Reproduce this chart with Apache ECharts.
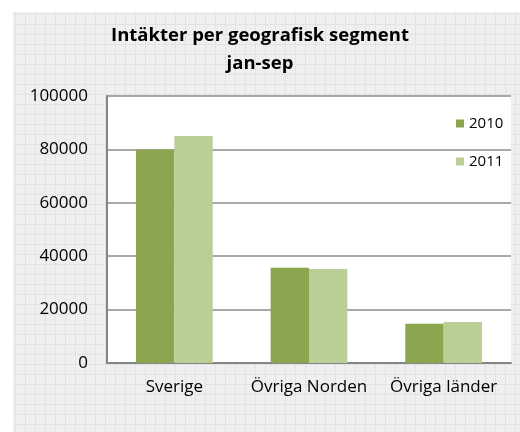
<!DOCTYPE html>
<html><head><meta charset="utf-8">
<script src="https://cdn.jsdelivr.net/npm/echarts@6/dist/echarts.min.js"></script>
<style>html,body{margin:0;padding:0;background:#fff}#c{width:520px;height:432px}</style>
</head><body><div id="c"></div>
<script>
var titleLines = ['Intäkter per geografisk segment', 'jan-sep'];
var categories = ['Sverige', 'Övriga Norden', 'Övriga länder'];
var seriesNames = ['2010', '2011'];
var values2010 = [80000, 35700, 14700];
var values2011 = [85000, 35200, 15400];
var yTicks = [0, 20000, 40000, 60000, 80000, 100000];

// background cell pattern
var pc = document.createElement('canvas');
pc.width = 10; pc.height = 10;
var ctx = pc.getContext('2d');
ctx.fillStyle = '#f1f1f1'; ctx.fillRect(0, 0, 10, 10);
ctx.fillStyle = '#ebebeb';
for (var i = 0; i < 10; i += 2) for (var j = (i/2)%2; j < 10; j += 2) ctx.fillRect(i, j, 1, 1);
ctx.fillStyle = '#e2e2e2';
ctx.fillRect(2, 0, 1, 10);
ctx.fillRect(0, 2, 10, 1);

var font = 'Open Sans';
var chart = echarts.init(document.getElementById('c'), null, {renderer: 'canvas'});
chart.setOption({
  animation: false,
  backgroundColor: '#ffffff',
  graphic: [{
    type: 'rect', left: 13, top: 12, z: -10,
    shape: {width: 507, height: 420},
    style: {fill: {image: pc, repeat: 'repeat'}}
  }],
  title: {
    text: titleLines.join('\n'),
    left: 'center', top: 17,
    textStyle: {fontFamily: font, fontWeight: 'bold', fontSize: 18.5, color: '#000', lineHeight: 28}
  },
  legend: {
    orient: 'vertical', left: 451, top: 111,
    itemWidth: 8, itemHeight: 8, itemGap: 23,
    icon: 'rect',
    textStyle: {fontFamily: font, fontSize: 15, color: '#000'},
    data: seriesNames
  },
  grid: {left: 107, top: 96, width: 404, height: 267, show: true, backgroundColor: '#ffffff', borderWidth: 0},
  xAxis: {
    type: 'category', data: categories,
    axisLine: {lineStyle: {color: '#868686', width: 2}},
    axisTick: {show: false},
    axisLabel: {fontFamily: font, fontSize: 17, color: '#000', margin: 16, interval: 0}
  },
  yAxis: {
    type: 'value', min: yTicks[0], max: yTicks[yTicks.length-1], interval: yTicks[1]-yTicks[0],
    axisLine: {show: true, lineStyle: {color: '#868686', width: 2}},
    axisTick: {show: false},
    splitLine: {lineStyle: {color: '#8c8c8c', width: 1.5}},
    axisLabel: {fontFamily: font, fontSize: 17, color: '#000', margin: 19,
      formatter: function (v) { return String(v); }}
  },
  series: [
    {name: seriesNames[0], type: 'bar', data: values2010, barGap: '0%', barCategoryGap: '43%',
     itemStyle: {color: '#8ba64f'}},
    {name: seriesNames[1], type: 'bar', data: values2011, barGap: '0%', barCategoryGap: '43%',
     itemStyle: {color: '#b9cf96'}}
  ]
});
</script></body></html>
